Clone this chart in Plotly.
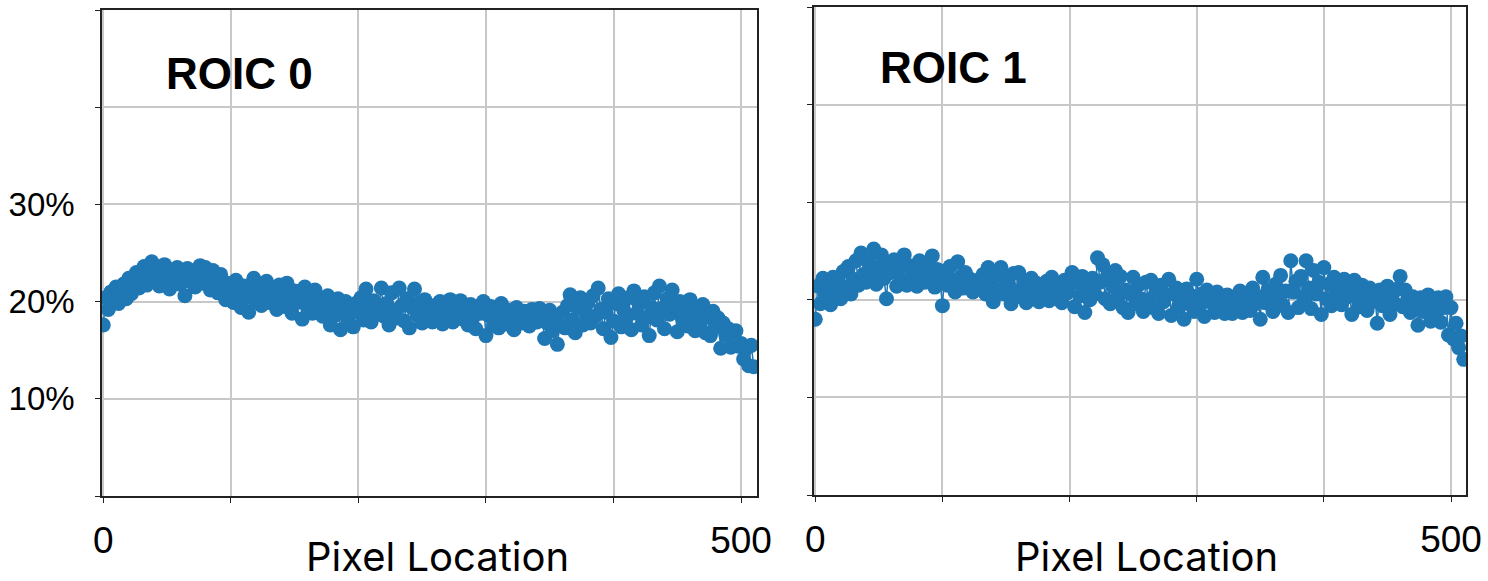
import plotly.graph_objects as go

# ---- data ----
pixel_step = 2
roic0_pct = [
    17.6, 20.4, 19.2, 21.0, 20.0, 21.5, 19.8, 20.9, 21.8, 20.3,
    22.4, 20.8, 21.9, 23.0, 21.4, 22.6, 23.6, 21.7, 22.9, 24.1,
    22.2, 23.3, 21.6, 22.8, 23.8, 22.0, 21.3, 23.1, 22.4, 23.5,
    21.8, 22.9, 20.6, 23.4, 22.1, 23.0, 21.5, 22.6, 23.7, 21.9,
    23.5, 22.3, 21.2, 23.2, 22.0, 20.9, 22.8, 21.6, 20.2, 21.9,
    21.3, 19.9, 22.2, 20.7, 19.4, 21.6, 20.4, 18.9, 21.0, 22.4,
    20.1, 21.4, 19.6, 20.8, 22.1, 19.9, 21.2, 20.5, 19.2, 21.7,
    20.6, 19.5, 21.9, 20.2, 18.8, 21.1, 19.9, 20.7, 18.2, 21.5,
    19.6, 20.6, 18.8, 21.2, 19.3, 20.1, 18.5, 19.8, 20.6, 17.6,
    19.4, 18.6, 20.3, 17.1, 19.0, 20.0, 18.3, 19.5, 17.4, 19.8,
    18.9, 20.4, 18.1, 21.3, 19.3, 17.9, 20.1, 18.7, 19.6, 21.4,
    18.5, 19.8, 17.6, 20.9, 19.1, 18.3, 21.4, 19.6, 18.0, 20.3,
    17.3, 19.4, 21.3, 18.6, 19.9, 17.8, 20.2, 18.9, 19.3, 17.9,
    19.6, 18.4, 20.0, 17.7, 19.1, 18.6, 20.2, 17.9, 19.3, 18.5,
    20.1, 18.2, 19.0, 17.6, 19.7, 18.4, 17.2, 19.4, 18.8, 20.0,
    16.5, 18.6, 19.5, 17.6, 18.9, 17.3, 19.8, 18.2, 17.7, 19.1,
    18.1, 17.1, 19.4, 18.5, 17.8, 19.0, 18.3, 17.5, 19.2, 18.6,
    17.9, 19.3, 18.4, 16.2, 17.8, 19.1, 17.0, 18.5, 15.6, 17.6,
    18.9, 17.3, 19.6, 20.7, 18.1, 16.8, 19.4, 20.4, 17.6, 18.8,
    19.9, 17.8, 20.6, 18.5, 21.4, 19.2, 17.2, 18.9, 20.3, 16.3,
    18.0, 19.8, 20.8, 17.4, 19.1, 18.3, 20.4, 17.1, 21.1, 18.8,
    19.7, 17.6, 20.5, 18.4, 16.5, 19.4, 20.9, 18.1, 21.6, 19.3,
    17.2, 20.3, 18.7, 21.2, 19.5, 16.9, 20.0, 18.3, 19.6, 17.5,
    20.2, 18.6, 17.0, 19.3, 18.0, 19.7, 16.8, 18.4, 16.5, 19.0,
    17.4, 18.3, 15.2, 17.8, 16.6, 17.2, 15.3, 16.8, 17.0, 15.4,
    15.7, 14.1, 15.2, 13.4, 15.5, 13.3,
]
roic1_pct = [
    18.0, 21.4, 19.6, 22.2, 20.5, 21.6, 19.5, 22.3, 20.9, 21.8,
    20.1, 22.9, 21.3, 23.4, 20.6, 22.1, 24.0, 21.5, 24.8, 22.6,
    21.8, 23.9, 22.5, 25.2, 21.6, 23.3, 24.6, 22.2, 20.1, 23.7,
    22.8, 24.1, 21.4, 23.2, 22.0, 24.6, 21.5, 23.5, 22.3, 23.0,
    21.4, 24.0, 22.7, 21.8, 23.6, 22.4, 24.5, 21.3, 23.1, 22.2,
    19.4, 22.9, 21.5, 23.4, 22.0, 20.8, 23.9, 22.3, 21.2, 22.8,
    21.6, 22.1, 20.8, 21.7, 22.0, 21.1, 22.6, 20.6, 23.3, 21.4,
    19.8, 22.5, 21.0, 23.3, 20.6, 22.2, 21.5, 19.6, 22.7, 20.9,
    22.8, 20.3, 21.9, 19.7, 21.4, 22.2, 20.5, 21.7, 19.8, 21.2,
    20.6, 21.9, 19.9, 22.3, 21.0, 20.2, 21.6, 19.7, 22.0, 20.7,
    21.5, 22.8, 19.3, 21.8, 20.4, 22.4, 18.7, 21.1, 20.0, 22.2,
    20.6, 24.3, 21.8, 23.6, 20.1, 22.5, 19.6, 21.4, 23.0, 20.4,
    22.4, 19.2, 21.0, 18.7, 20.6, 22.3, 19.6, 21.5, 20.1, 18.8,
    21.8, 20.0, 22.0, 19.2, 20.8, 18.6, 21.5, 19.8, 20.5, 22.1,
    18.4, 20.6, 21.2, 19.3, 20.0, 18.0, 21.1, 19.6, 20.4, 18.8,
    22.1, 19.4, 20.6, 18.3, 21.0, 19.8, 20.3, 18.7, 20.8, 19.5,
    20.2, 18.6, 20.5, 19.4, 18.6, 20.0, 19.2, 20.9, 18.7, 19.8,
    20.6, 18.9, 21.2, 19.6, 20.3, 18.0, 22.3, 19.7, 21.0, 20.1,
    18.8, 21.6, 20.2, 22.5, 19.4, 20.9, 18.7, 24.0, 20.8, 21.9,
    19.2, 22.4, 20.3, 24.0, 21.2, 19.1, 23.0, 20.6, 21.8, 18.5,
    23.3, 20.1, 21.6, 19.4, 22.3, 20.7, 21.2, 19.5, 22.1, 20.3,
    21.0, 18.5, 22.0, 20.2, 19.3, 21.5, 20.6, 18.9, 21.2, 19.8,
    20.7, 17.6, 21.0, 19.4, 20.2, 21.4, 18.5, 20.6, 19.6, 21.1,
    22.4, 19.3, 21.0, 20.1, 18.7, 20.3, 19.5, 17.4, 20.2, 18.8,
    19.9, 20.5, 17.8, 19.4, 18.6, 20.2, 17.7, 19.2, 20.3, 16.4,
    19.2, 16.0, 17.6, 15.1, 16.3, 13.9,
]
pixels0 = [i * pixel_step for i in range(len(roic0_pct))]
pixels1 = [i * pixel_step for i in range(len(roic1_pct))]

y_tickvals = [0, 10, 20, 30, 40, 50]
y_ticktext = ["", "10%", "20%", "30%", "", ""]
x_tickvals = [0, 100, 200, 300, 400, 500]
x_ticktext = ["0", "", "", "", "", "500"]
panel_titles = ["ROIC 0", "ROIC 1"]
x_title = "Pixel Location"

BLUE = "#1f77b4"
W, H = 1488, 581

fig = go.Figure()
fig.add_trace(go.Scatter(x=pixels0, y=roic0_pct, mode="lines+markers",
                         line=dict(color=BLUE, width=1.5),
                         marker=dict(color=BLUE, size=15),
                         xaxis="x", yaxis="y", showlegend=False))
fig.add_trace(go.Scatter(x=pixels1, y=roic1_pct, mode="lines+markers",
                         line=dict(color=BLUE, width=1.5),
                         marker=dict(color=BLUE, size=15),
                         xaxis="x2", yaxis="y2", showlegend=False))

def px_x(p):
    return p / W

def px_y(p):
    return 1 - p / H

axis_common = dict(showline=True, mirror=True, linecolor="#222222", linewidth=1.5,
                   showgrid=True, gridcolor="#c8c8c8", gridwidth=1.5,
                   ticks="outside", ticklen=5, tickcolor="#222222", tickwidth=1.2,
                   zeroline=False, automargin=False)

xfont = dict(family="Liberation Sans, Arial, sans-serif", size=37, color="black")
yfont = dict(family="Liberation Sans, Arial, sans-serif", size=33, color="black")

fig.update_layout(
    template="none",
    width=W, height=H, autosize=False,
    margin=dict(l=0, r=0, t=0, b=0, pad=0),
    paper_bgcolor="white", plot_bgcolor="white",
    xaxis=dict(domain=[px_x(102), px_x(757)], range=[-1, 512.5], anchor="y",
               tickvals=x_tickvals, ticktext=x_ticktext, tickfont=xfont,
               ticklabelstandoff=6, **axis_common),
    yaxis=dict(domain=[px_y(496), px_y(10)], range=[0, 50], anchor="x",
               tickvals=y_tickvals, ticktext=y_ticktext, tickfont=yfont,
               ticklabelstandoff=14, **axis_common),
    xaxis2=dict(domain=[px_x(814), px_x(1466)], range=[-1, 511.8], anchor="y2",
                tickvals=x_tickvals, ticktext=x_ticktext, tickfont=xfont,
                ticklabelstandoff=6, **axis_common),
    yaxis2=dict(domain=[px_y(495), px_y(7)], range=[0, 50], anchor="x2",
                tickvals=y_tickvals, ticktext=[""] * len(y_tickvals),
                **axis_common),
)

title_font = dict(family="Liberation Sans, Arial, sans-serif", size=44, color="black")
fig.add_annotation(x=107, y=43.5, xref="x", yref="y", text="<b>%s</b>" % panel_titles[0],
                   showarrow=False, font=title_font, xanchor="center", yanchor="middle")
fig.add_annotation(x=108.5, y=43.8, xref="x2", yref="y2", text="<b>%s</b>" % panel_titles[1],
                   showarrow=False, font=title_font, xanchor="center", yanchor="middle")

xt_font = dict(family="Inter, Open Sans, sans-serif", size=40, color="black")
fig.add_annotation(x=px_x(437), y=px_y(556), xref="paper", yref="paper", text=x_title,
                   showarrow=False, font=xt_font, xanchor="center", yanchor="middle")
fig.add_annotation(x=px_x(1146), y=px_y(556), xref="paper", yref="paper", text=x_title,
                   showarrow=False, font=xt_font, xanchor="center", yanchor="middle")

fig.write_html("out.html", config={"responsive": False, "displayModeBar": False},
               post_script="document.body.style.margin='0';document.body.style.overflow='hidden';")
